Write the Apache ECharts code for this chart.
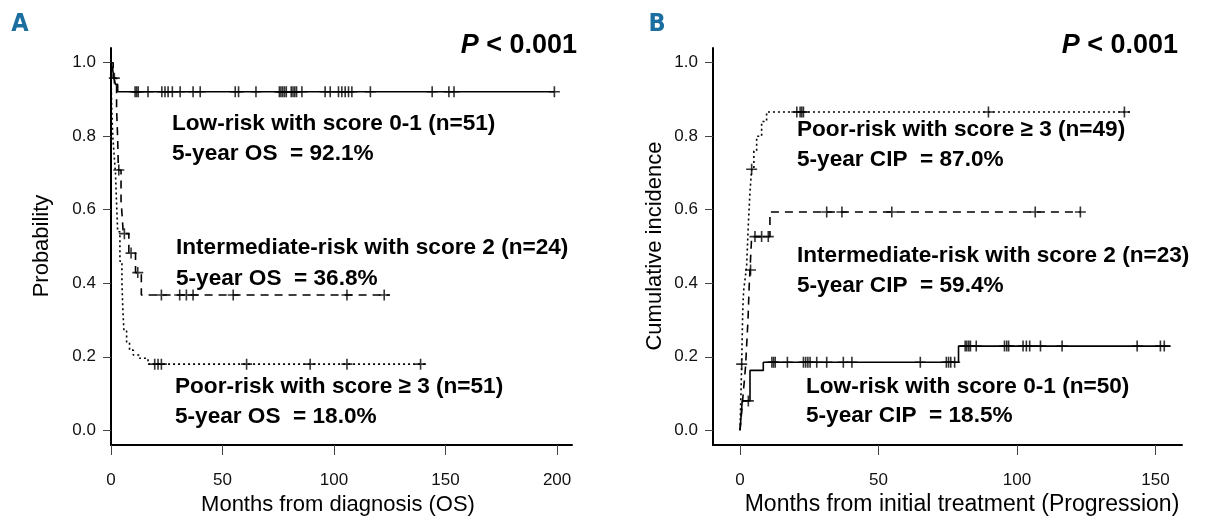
<!DOCTYPE html>
<html>
<head>
<meta charset="utf-8">
<script src="https://cdn.jsdelivr.net/npm/echarts@6/dist/echarts.min.js"></script>
<style>
html,body{margin:0;padding:0;background:#fff;}
#c{width:1219px;height:520px;}
</style>
</head>
<body>
<div id="c"></div>
<script>
// ---------- Panel A: overall survival ----------
const xTicksA = [0, 50, 100, 150, 200];
const yTicks = [0, 0.2, 0.4, 0.6, 0.8, 1.0];

const lowA_t = [0, 0.8, 1.2, 2.0, 3.0];
const lowA_s = [1, 0.98, 0.961, 0.941, 0.921];
const lowA_cens = [10.8, 11.5, 12.2, 16.6, 22.8, 24.2, 25.6, 27.5, 31, 36.8, 40, 55.7, 57.2, 65,
  75.5, 76.2, 77, 77.8, 78.6, 80.8, 81.6, 82.4, 83.2, 85.6, 96, 98.3, 102, 103.5, 105, 106.5, 108,
  116.3, 144, 151.5, 153.8, 198.8];
const lowA_end = 198.8;

const intA_t = [0, 1, 2.5, 3, 3.3, 4.5, 5, 5.5, 8, 11, 13.6];
const intA_s = [1, 0.958, 0.875, 0.792, 0.708, 0.625, 0.583, 0.535, 0.482, 0.429, 0.368];
const intA_cens = [1.5, 3.5, 6, 9, 12, 22.6, 30.8, 33.8, 36.8, 54.8, 105.8, 122.5];
const intA_end = 125;

const poorA_t = [0, 0.1, 0.3, 0.8, 1.5, 2.0, 2.6, 3.0, 4.0, 4.9, 5.3, 5.8, 7.0, 8.3, 10, 12.8, 16.6];
const poorA_s = [1, 0.94, 0.88, 0.80, 0.74, 0.70, 0.60, 0.54, 0.46, 0.40, 0.33, 0.27, 0.24, 0.218, 0.205, 0.196, 0.180];
const poorA_cens = [19.6, 21.1, 22.6, 60.8, 89.3, 105.8, 138.8];
const poorA_end = 141.8;

// ---------- Panel B: cumulative incidence of progression ----------
const xTicksB = [0, 50, 100, 150];

const lowB_t = [0, 0.2, 0.4, 0.6, 0.8, 3.6, 8.4, 78.9];
const lowB_s = [0, 0.02, 0.04, 0.06, 0.08, 0.163, 0.185, 0.229];
const lowB_cens = [3.0, 11.5, 12.1, 12.7, 17.1, 22.9, 23.7, 24.5, 25.3, 27.7, 31.3, 37.3, 40.4, 65.1,
  74.5, 75.3, 76.1, 77.5, 81.3, 81.9, 82.6, 83.2, 85.3, 95.5, 96.3, 97, 102.2, 103.4, 104.6, 108.5,
  116.3, 143.4, 151.8, 153.2];
const lowB_end = 155.5;

const intB_t = [0, 0.5, 1, 1.5, 2, 2.3, 2.6, 2.9, 3.1, 3.3, 3.6, 4.2, 10.8];
const intB_s = [0, 0.043, 0.087, 0.13, 0.174, 0.217, 0.261, 0.304, 0.348, 0.391, 0.436, 0.527, 0.594];
const intB_cens = [3.8, 5.4, 7.8, 10.2, 31.3, 36.8, 54.8, 106.6, 122.9];
const intB_end = 123;

const poorB_t = [0, 0.2, 0.4, 0.6, 0.8, 1.0, 1.3, 1.8, 2.4, 3.0, 3.6, 4.2, 5, 6, 7.8, 9.6];
const poorB_s = [0, 0.06, 0.12, 0.18, 0.26, 0.33, 0.38, 0.41, 0.45, 0.56, 0.65, 0.71, 0.76, 0.80, 0.84, 0.866];
const poorB_cens = [0.6, 4.2, 20.5, 21.7, 22.3, 22.9, 89.7, 138.8];
const poorB_end = 141;

// ---------- helpers ----------
function stepAt(ts, ss, t) {
  let v = ss[0];
  for (let i = 0; i < ts.length; i++) if (ts[i] <= t) v = ss[i];
  return v;
}
function curveData(ts, ss, end) {
  const d = ts.map((t, i) => [t, ss[i]]);
  d.push([end, ss[ss.length - 1]]);
  return d;
}
function censData(ts, ss, cens) {
  return cens.map(t => [t, stepAt(ts, ss, t)]);
}
const plusSym = 'path://M5,0 L5,10 M0,5 L10,5';

function lineSeries(ts, ss, end, dash, idx) {
  return {
    type: 'line', step: 'end', xAxisIndex: idx, yAxisIndex: idx,
    data: curveData(ts, ss, end), showSymbol: false, symbol: 'none',
    lineStyle: { color: '#000', width: 1.6, type: dash },
    silent: true, z: 3
  };
}
function censSeries(ts, ss, cens, idx) {
  return {
    type: 'scatter', xAxisIndex: idx, yAxisIndex: idx,
    data: censData(ts, ss, cens), symbol: plusSym, symbolSize: 11,
    itemStyle: { color: 'none', borderColor: '#000', borderWidth: 1.6 },
    silent: true, z: 4
  };
}

const labelFont = 'Liberation Sans, Arial, sans-serif';

function xAxisOpt(idx, min, max, ticks) {
  return {
    type: 'value', gridIndex: idx, min: min, max: max,
    axisLine: { show: true, onZero: false, lineStyle: { color: '#000', width: 2 } },
    axisTick: { show: true, inside: false, length: 10, customValues: ticks, lineStyle: { color: '#444', width: 1 } },
    axisLabel: { show: true, customValues: ticks, margin: 27, fontSize: 17, color: '#111', fontFamily: labelFont },
    splitLine: { show: false }
  };
}
function yAxisOpt(idx) {
  return {
    type: 'value', gridIndex: idx, min: -0.04, max: 1.04,
    axisLine: { show: true, onZero: false, lineStyle: { color: '#000', width: 2 } },
    axisTick: { show: true, inside: false, length: 8, customValues: yTicks, lineStyle: { color: '#444', width: 1 } },
    axisLabel: { show: true, customValues: yTicks, margin: 15, fontSize: 17, color: '#111', fontFamily: labelFont,
      formatter: v => v.toFixed(1) },
    splitLine: { show: false }
  };
}

function txt(x, y, text, opts) {
  return {
    type: 'text', x: x, y: y, silent: true,
    style: Object.assign({
      text: text, fill: '#000', fontFamily: labelFont, fontSize: 22.6, fontWeight: 'bold',
      align: 'left', verticalAlign: 'middle'
    }, opts || {})
  };
}
function pval(x, y) {
  return {
    type: 'text', x: x, y: y, silent: true,
    style: {
      text: '{i|P} < 0.001', fill: '#000', fontFamily: labelFont, fontSize: 27, fontWeight: 'bold',
      align: 'right', verticalAlign: 'middle',
      rich: { i: { fontStyle: 'italic', fontWeight: 'bold', fontSize: 27, fontFamily: labelFont, fill: '#000' } }
    }
  };
}

const chart = echarts.init(document.getElementById('c'), null, { renderer: 'canvas' });
chart.setOption({
  animation: false,
  backgroundColor: '#fff',
  grid: [
    { left: 111, top: 48, width: 461, height: 397 },
    { left: 713, top: 48, width: 469, height: 397 }
  ],
  xAxis: [xAxisOpt(0, 0, 206.7, xTicksA), xAxisOpt(1, -9.76, 159.6, xTicksB)],
  yAxis: [yAxisOpt(0), yAxisOpt(1)],
  series: [
    lineSeries(lowA_t, lowA_s, lowA_end, 'solid', 0),
    lineSeries(intA_t, intA_s, intA_end, [8, 6], 0),
    lineSeries(poorA_t, poorA_s, poorA_end, [2, 3], 0),
    censSeries(lowA_t, lowA_s, lowA_cens, 0),
    censSeries(intA_t, intA_s, intA_cens, 0),
    censSeries(poorA_t, poorA_s, poorA_cens, 0),
    lineSeries(lowB_t, lowB_s, lowB_end, 'solid', 1),
    lineSeries(intB_t, intB_s, intB_end, [8, 6], 1),
    lineSeries(poorB_t, poorB_s, poorB_end, [2, 3], 1),
    censSeries(lowB_t, lowB_s, lowB_cens, 1),
    censSeries(intB_t, intB_s, intB_cens, 1),
    censSeries(poorB_t, poorB_s, poorB_cens, 1)
  ],
  graphic: [
    txt(20, 24, 'A', { fontFamily: 'DejaVu Sans Condensed', fontSize: 25, fill: '#1a6fa0', align: 'center' }),
    txt(657, 24, 'B', { fontFamily: 'DejaVu Sans Condensed', fontSize: 25, fill: '#1a6fa0', align: 'center' }),
    pval(577, 46),
    pval(1178, 46),
    txt(172, 124, 'Low-risk with score 0-1 (n=51)'),
    txt(172, 154, '5-year OS  = 92.1%'),
    txt(176, 248, 'Intermediate-risk with score 2 (n=24)'),
    txt(176, 279, '5-year OS  = 36.8%'),
    txt(175, 387, 'Poor-risk with score \u2265 3 (n=51)'),
    txt(175, 417, '5-year OS  = 18.0%'),
    txt(797, 130, 'Poor-risk with score \u2265 3 (n=49)'),
    txt(797, 160, '5-year CIP  = 87.0%'),
    txt(797, 256, 'Intermediate-risk with score 2 (n=23)'),
    txt(797, 286, '5-year CIP  = 59.4%'),
    txt(806, 387, 'Low-risk with score 0-1 (n=50)'),
    txt(806, 416, '5-year CIP  = 18.5%'),
    txt(338, 505, 'Months from diagnosis (OS)', { fontWeight: 'normal', fontSize: 22, align: 'center' }),
    txt(962, 505, 'Months from initial treatment (Progression)', { fontWeight: 'normal', fontSize: 23, align: 'center' }),
    { type: 'text', x: 42, y: 246, rotation: Math.PI / 2, silent: true,
      style: { text: 'Probability', fill: '#000', fontFamily: labelFont, fontSize: 22, align: 'center', verticalAlign: 'middle' } },
    { type: 'text', x: 655, y: 246, rotation: Math.PI / 2, silent: true,
      style: { text: 'Cumulative incidence', fill: '#000', fontFamily: labelFont, fontSize: 22, align: 'center', verticalAlign: 'middle' } }
  ]
});
</script>
</body>
</html>
